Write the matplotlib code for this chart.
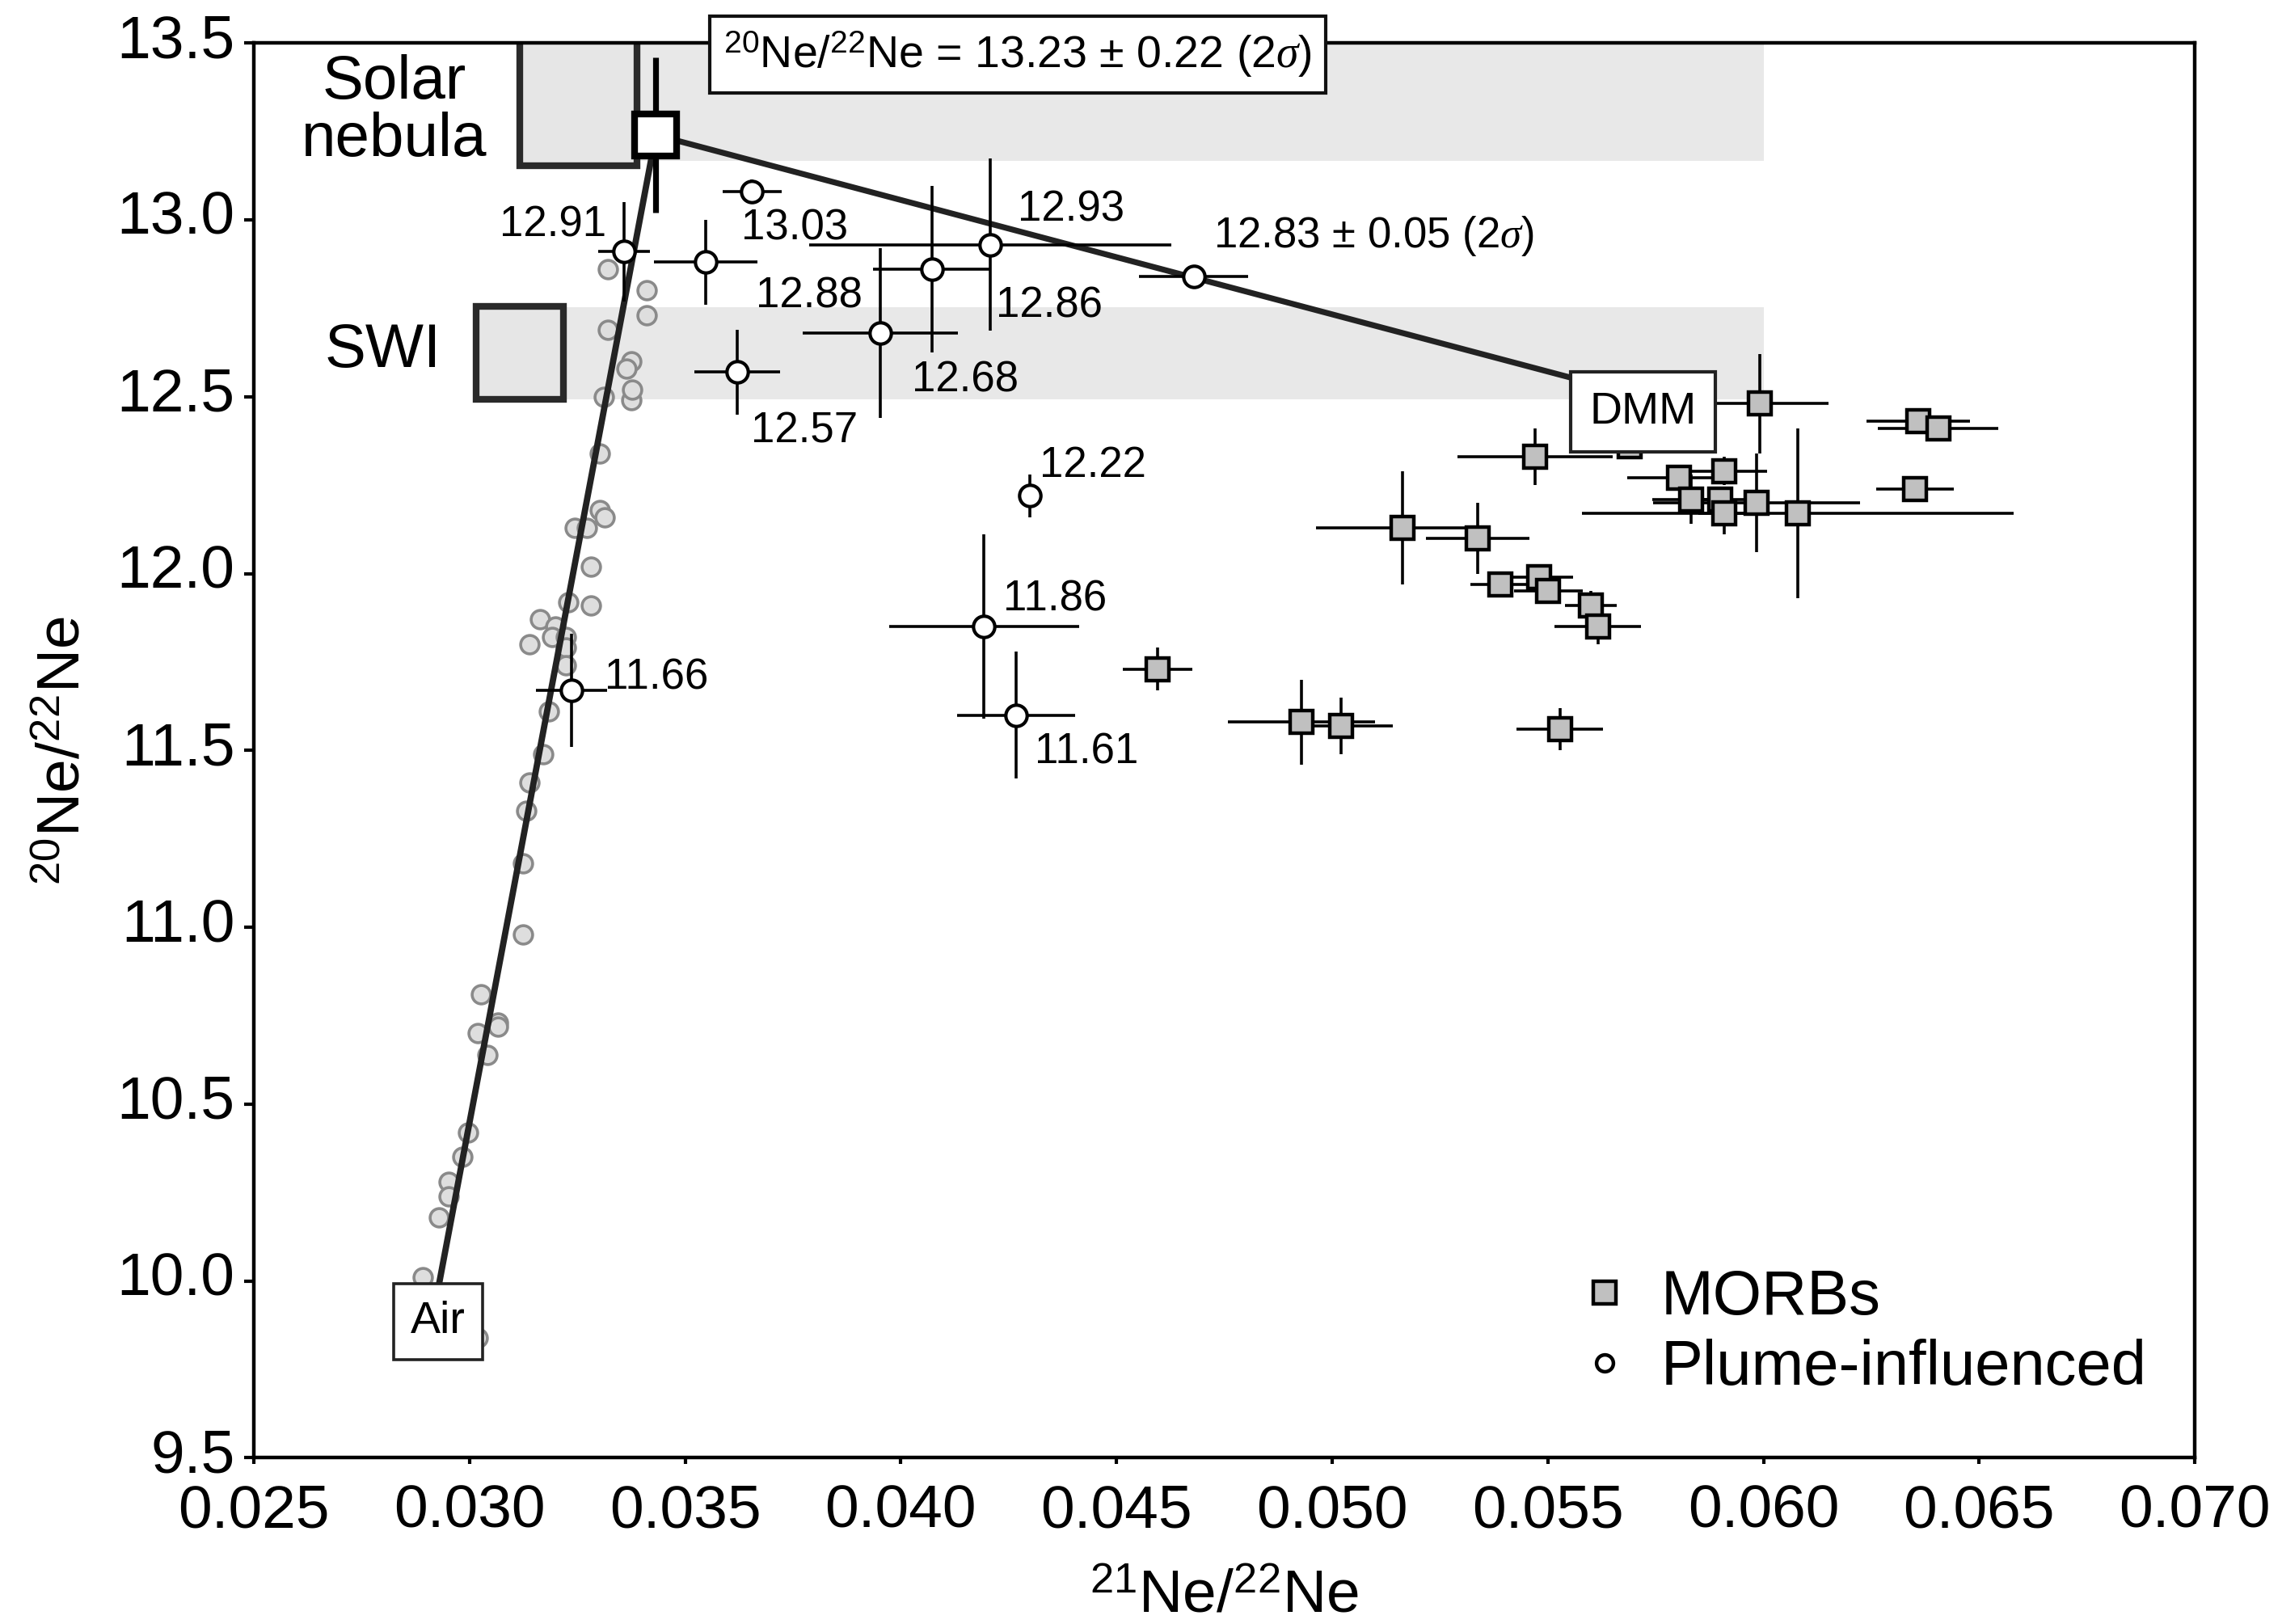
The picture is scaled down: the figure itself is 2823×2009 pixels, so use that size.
import matplotlib
matplotlib.use("Agg")
import matplotlib.pyplot as plt
from matplotlib.patches import Rectangle
from matplotlib.lines import Line2D
from matplotlib.transforms import ScaledTranslation

plt.rcParams['font.family'] = ['Liberation Sans', 'DejaVu Sans']
plt.rcParams['mathtext.fontset'] = 'custom'
plt.rcParams['mathtext.rm'] = 'Liberation Sans'
plt.rcParams['mathtext.it'] = 'Liberation Serif:italic'
plt.rcParams['mathtext.bf'] = 'Liberation Sans:bold'

# ---- data ----
# MORBs (21Ne/22Ne, 20Ne/22Ne, 2 sigma errors)
morb_x = [0.05991, 0.06359, 0.06405, 0.05471, 0.05690, 0.05909, 0.05804, 0.05833,
          0.05900, 0.05909, 0.05984, 0.06080, 0.06352, 0.05163, 0.05337, 0.05390,
          0.05479, 0.05501, 0.05600, 0.05616, 0.04595, 0.04929, 0.05021, 0.05528]
morb_y = [12.48, 12.43, 12.41, 12.33, 12.36, 12.29, 12.27, 12.21,
          12.21, 12.17, 12.20, 12.17, 12.24, 12.13, 12.10, 11.97,
          11.99, 11.95, 11.91, 11.85, 11.73, 11.58, 11.57, 11.56]
morb_xerr = [0.0016, 0.0012, 0.0014, 0.0018, 0.0005, 0.0010, 0.0012, 0.0009,
             0.0006, 0.0006, 0.0024, 0.0050, 0.0009, 0.0020, 0.0012, 0.0007,
             0.0008, 0.0008, 0.0006, 0.0010, 0.0008, 0.0017, 0.0012, 0.0010]
morb_yerr = [0.14, 0.03, 0.03, 0.08, 0.03, 0.04, 0.03, 0.07,
             0.03, 0.06, 0.14, 0.24, 0.03, 0.16, 0.10, 0.03,
             0.03, 0.03, 0.04, 0.05, 0.06, 0.12, 0.08, 0.06]

# plume-influenced samples
plume_x = [0.03359, 0.03655, 0.03547, 0.04073, 0.04208, 0.04679,
           0.03952, 0.03621, 0.04300, 0.04193, 0.04268, 0.03237]
plume_y = [12.91, 13.08, 12.88, 12.86, 12.93, 12.84,
           12.68, 12.57, 12.22, 11.85, 11.60, 11.67]
plume_xerr = [0.0006, 0.00068, 0.0012, 0.00137, 0.0042, 0.00126,
              0.0018, 0.0010, 0.0002, 0.0022, 0.00137, 0.00082]
plume_yerr = [0.14, 0.035, 0.12, 0.236, 0.243, 0.03,
              0.24, 0.12, 0.06, 0.26, 0.18, 0.16]
plume_labels = ['12.91', '13.03', '12.88', '12.86', '12.93', r'12.83 $\pm$ 0.05 (2$\sigma$)',
                '12.68', '12.57', '12.22', '11.86', '11.61', '11.66']
# label anchors (x, baseline y, alignment)
label_pos = [(0.03317, 12.953, 'right'), (0.0363, 12.945, 'left'), (0.03664, 12.752, 'left'),
             (0.04221, 12.725, 'left'), (0.04271, 12.997, 'left'), (0.04725, 12.923, 'left'),
             (0.04026, 12.515, 'left'), (0.03652, 12.37, 'left'), (0.04321, 12.274, 'left'),
             (0.04238, 11.895, 'left'), (0.0431, 11.463, 'left'), (0.03314, 11.673, 'left')]

# air-contaminated analyses along the air - solar line
air_x = [0.03321, 0.03410, 0.03410, 0.03321, 0.03376, 0.03364, 0.03312, 0.03376, 0.03378,
         0.03303, 0.03303, 0.03313, 0.03244, 0.03272, 0.03282, 0.03229, 0.03282, 0.03163,
         0.03199, 0.03139, 0.03191, 0.03223, 0.03223, 0.03223, 0.03185, 0.03171, 0.03139,
         0.03131, 0.03125, 0.03125, 0.03027, 0.03066, 0.03066, 0.03019, 0.03041, 0.02997,
         0.02983, 0.02951, 0.02951, 0.02929, 0.02892, 0.03020]
air_y = [12.86, 12.80, 12.73, 12.69, 12.60, 12.58, 12.50, 12.49, 12.52,
         12.34, 12.18, 12.16, 12.13, 12.13, 12.02, 11.92, 11.91, 11.87,
         11.85, 11.80, 11.82, 11.82, 11.79, 11.74, 11.61, 11.49, 11.41,
         11.33, 11.18, 10.98, 10.81, 10.73, 10.72, 10.70, 10.64, 10.42,
         10.35, 10.28, 10.24, 10.18, 10.01, 9.84]

# end members
air_end = (0.0290, 9.80)
solar_end = (0.03432, 13.24)
solar_err = 0.22
dmm_end = (0.0572, 12.50)

# reference ranges
solar_box = (0.03117, 0.03389, 13.153)   # x0, x1, y0 (up to top of plot)
swi_box = (0.03016, 0.03217, 12.493, 12.756)
band_solar = (0.03389, 0.0600, 13.166, 13.5)
band_swi = (0.03217, 0.0600, 12.493, 12.752)


def main():
    fig = plt.figure(figsize=(14.115, 10.045), dpi=200)
    ax = fig.add_axes([0.1112, 0.1024, 0.8506, 0.8711])

    # grey bands
    for x0, x1, y0, y1 in [band_solar, band_swi]:
        ax.fill_between([x0, x1], y0, y1, color='#e8e8e8', lw=0, zorder=0)

    # solar nebula and SWI boxes
    ax.add_patch(Rectangle((solar_box[0], solar_box[2]), solar_box[1] - solar_box[0], 1.0,
                           facecolor='#e6e6e6', edgecolor='#2a2a2a', lw=3, zorder=1))
    ax.add_patch(Rectangle((swi_box[0], swi_box[2]), swi_box[1] - swi_box[0], swi_box[3] - swi_box[2],
                           facecolor='#e6e6e6', edgecolor='#2a2a2a', lw=3, zorder=1))

    # air-like points
    ax.plot(air_x, air_y, 'o', ms=8.2, mfc='#dedede', mec='#8a8a8a', mew=1.3, zorder=2)

    # mixing lines
    ax.plot([air_end[0], solar_end[0]], [air_end[1], solar_end[1]], color='#222222', lw=2.8, zorder=2.5)
    ax.plot([solar_end[0], dmm_end[0]], [solar_end[1], dmm_end[1]], color='#222222', lw=2.6, zorder=2.5)

    # MORBs
    ax.errorbar(morb_x, morb_y, xerr=morb_xerr, yerr=morb_yerr, fmt='none',
                ecolor='black', elinewidth=1.3, capsize=0, zorder=3)
    ax.plot(morb_x, morb_y, 's', ms=10, mfc='#c0c0c0', mec='black', mew=1.6, zorder=4)

    # plume-influenced
    ax.errorbar(plume_x, plume_y, xerr=plume_xerr, yerr=plume_yerr, fmt='none',
                ecolor='black', elinewidth=1.3, capsize=0, zorder=3)
    ax.plot(plume_x, plume_y, 'o', ms=9.5, mfc='white', mec='black', mew=1.5, zorder=4)

    for lab, (lx, ly, ha) in zip(plume_labels, label_pos):
        ax.text(lx, ly, lab, fontsize=19, ha=ha, va='baseline', zorder=6)

    # solar end member
    ax.errorbar([solar_end[0]], [solar_end[1]], yerr=[solar_err], fmt='none',
                ecolor='black', elinewidth=2.6, capsize=0, zorder=5)
    ax.plot([solar_end[0]], [solar_end[1]], 's', ms=19, mfc='white', mec='black', mew=3, zorder=6)

    # labels of end members
    ax.text(0.02826, 13.306, 'Solar\nnebula', fontsize=27.5, ha='center', va='center',
            linespacing=1.0, zorder=6)
    ax.text(0.0280, 12.628, 'SWI', fontsize=27.5, ha='center', va='center', zorder=6)
    ax.text(0.02928, 9.884, 'Air', fontsize=20, ha='center', va='center', zorder=7,
            bbox=dict(boxstyle='square,pad=0.38', facecolor='white', edgecolor='#222222', lw=1.3))
    ax.text(0.05721, 12.457, 'DMM', fontsize=20, ha='center', va='center', zorder=7,
            bbox=dict(boxstyle='square,pad=0.42', facecolor='white', edgecolor='#222222', lw=1.5))
    ax.text(0.04271, 13.467, r'$^{20}$Ne/$^{22}$Ne = 13.23 $\pm$ 0.22 (2$\sigma$)', fontsize=20,
            ha='center', va='center', clip_on=False, zorder=8,
            bbox=dict(boxstyle='square,pad=0.3', facecolor='white', edgecolor='#111111', lw=1.5))

    # axes
    ax.set_xlim(0.025, 0.070)
    ax.set_ylim(9.5, 13.5)
    ax.set_xticks([0.025 + 0.005 * i for i in range(10)])
    ax.set_yticks([9.5 + 0.5 * i for i in range(9)])
    ax.set_xticklabels(['%.3f' % (0.025 + 0.005 * i) for i in range(10)])
    ax.set_yticklabels(['%.1f' % (9.5 + 0.5 * i) for i in range(9)])
    ax.tick_params(axis='both', direction='out', labelsize=27, width=1.5)
    ax.tick_params(axis='x', length=3, pad=8.5)
    ax.tick_params(axis='y', length=4.5, pad=4)
    # y tick labels sit a little above their ticks in the original
    shift = ScaledTranslation(0, 9 / 200, fig.dpi_scale_trans)
    for lab in ax.get_yticklabels():
        lab.set_transform(lab.get_transform() + shift)
    for s in ax.spines.values():
        s.set_linewidth(1.6)

    ax.set_xlabel(r'$^{21}$Ne/$^{22}$Ne', fontsize=27, labelpad=13)
    ax.set_ylabel(r'$^{20}$Ne/$^{22}$Ne', fontsize=27, labelpad=11)

    # legend
    handles = [Line2D([], [], ls='none', marker='s', ms=10, mfc='#c0c0c0', mec='black', mew=1.6),
               Line2D([], [], ls='none', marker='o', ms=7.5, mfc='white', mec='black', mew=1.6)]
    ax.legend(handles, ['MORBs', 'Plume-influenced'], loc='center left',
              bbox_to_anchor=(0.6635, 0.088), frameon=False, fontsize=28,
              handlelength=1.0, handletextpad=0.4, labelspacing=0.18, borderpad=0)

    fig.savefig('out.png', dpi=200)


if __name__ == "__main__":
    main()
